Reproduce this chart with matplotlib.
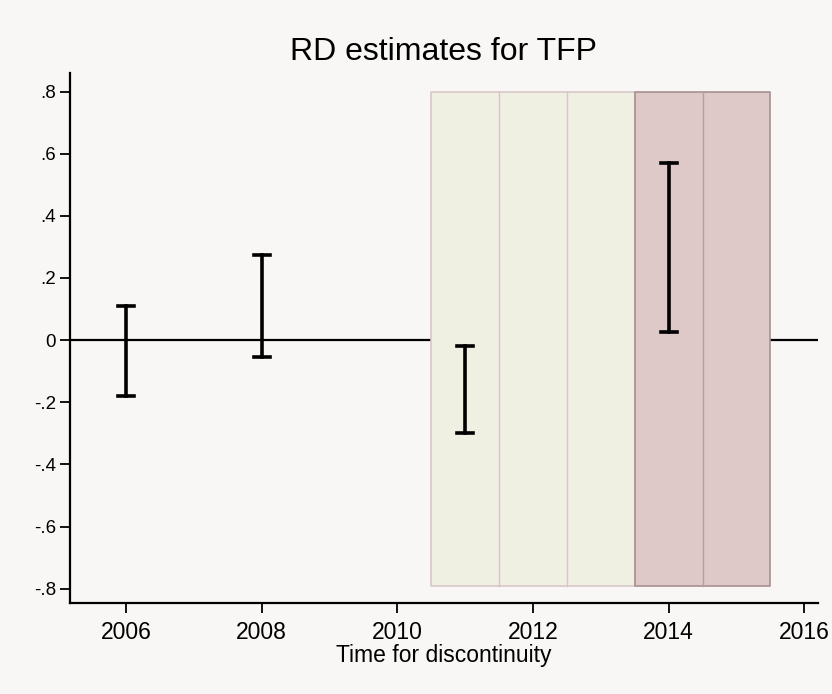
import numpy as np
import matplotlib
matplotlib.use("Agg")
import matplotlib.pyplot as plt

plt.rcParams['font.family'] = ['Liberation Sans', 'DejaVu Sans']

# === Data ===
years = [2006, 2008, 2011, 2014]
ci_low = [-0.18, -0.055, -0.30, 0.025]
ci_high = [0.11, 0.275, -0.02, 0.57]

# shaded periods (start, end) and colours
band_edges = [(2010.5, 2013.5), (2013.5, 2015.5)]
band_colors = ['#f0f0e2', '#dec8c8']
band_edge_colors = ['#d8c8c8', '#a89090']
divider_x = [2011.5, 2012.5, 2014.5]
divider_colors = ['#dcc0cc', '#dcc0cc', '#b0a0a0']

xticks = [2006, 2008, 2010, 2012, 2014, 2016]
yticks = [-0.8, -0.6, -0.4, -0.2, 0, 0.2, 0.4, 0.6, 0.8]
ytick_labels = ['-.8', '-.6', '-.4', '-.2', '0', '.2', '.4', '.6', '.8']

bg = '#f8f7f5'
fig = plt.figure(figsize=(8.32, 6.94), dpi=100, facecolor=bg)
ax = fig.add_axes([0.084, 0.131, 0.899, 0.764])
ax.set_facecolor(bg)

# zero line (hidden under the bands)
ax.axhline(0, color='black', lw=1.6, zorder=1)

# shaded bands
for (x0, x1), c, ec in zip(band_edges, band_colors, band_edge_colors):
    ax.fill_between([x0, x1], -0.79, 0.8, color=c, edgecolor=ec, lw=1.2, zorder=2)
for xv, c in zip(divider_x, divider_colors):
    ax.plot([xv, xv], [-0.79, 0.8], color=c, lw=1, zorder=3)

# capped CI bars
for x, lo, hi in zip(years, ci_low, ci_high):
    ax.plot([x, x], [lo, hi], color='black', lw=2.6, zorder=4)
    ax.plot([x - 0.12, x + 0.12], [lo, lo], color='black', lw=2.6, zorder=4)
    ax.plot([x - 0.12, x + 0.12], [hi, hi], color='black', lw=2.6, zorder=4)

ax.set_xlim(2005.17, 2016.2)
ax.set_ylim(-0.846, 0.86)
ax.set_xticks(xticks)
ax.set_xticklabels([str(t) for t in xticks], fontsize=16.5)
ax.set_yticks(yticks)
ax.set_yticklabels(ytick_labels, fontsize=13.5)
ax.tick_params(axis='both', direction='out', length=7, width=1.3)
ax.tick_params(axis='x', pad=6)
ax.tick_params(axis='y', pad=3)

for s in ['top', 'right']:
    ax.spines[s].set_visible(False)
for s in ['left', 'bottom']:
    ax.spines[s].set_linewidth(1.6)

ax.set_title('RD estimates for TFP', fontsize=23, pad=9)
ax.set_xlabel('Time for discontinuity', fontsize=16.5, labelpad=0)

fig.savefig('out.png', dpi=100, facecolor=fig.get_facecolor())
